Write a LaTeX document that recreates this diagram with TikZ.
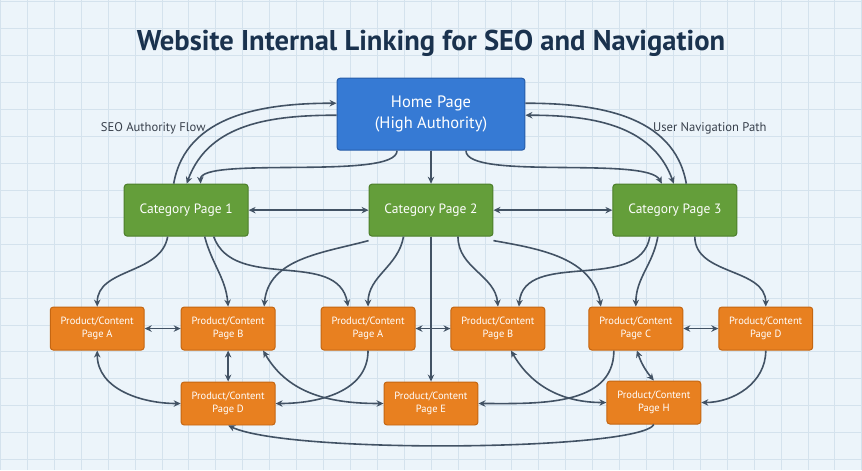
\documentclass[tikz,border=0pt]{standalone}
\usepackage{fontspec}
\setmainfont{PT Sans}
\usetikzlibrary{arrows.meta,positioning,calc}
\definecolor{homeblue}{RGB}{54,122,212}
\definecolor{homeedge}{RGB}{38,92,168}
\definecolor{catgreen}{RGB}{100,158,58}
\definecolor{catedge}{RGB}{76,126,42}
\definecolor{prodorange}{RGB}{232,128,32}
\definecolor{prodedge}{RGB}{196,102,18}
\definecolor{linkgray}{RGB}{66,82,100}
\definecolor{titlenavy}{RGB}{26,50,78}
\definecolor{labelgray}{RGB}{56,64,76}
\definecolor{bgblue}{RGB}{236,244,250}
\definecolor{gridblue}{RGB}{212,226,237}

\begin{document}
\begin{tikzpicture}[x=1pt,y=1pt,
  homebox/.style={draw=homeedge, line width=1pt, rounded corners=3pt, fill=homeblue,
                  text=white, minimum width=188pt, minimum height=72pt, align=center,
                  font=\fontsize{16.5}{20.5}\selectfont},
  catbox/.style={draw=catedge, line width=1pt, rounded corners=3pt, fill=catgreen,
                 text=white, minimum width=124pt, minimum height=52pt,
                 font=\fontsize{13.5}{16}\selectfont},
  prodbox/.style={draw=prodedge, line width=1pt, rounded corners=3pt, fill=prodorange,
                  text=white, minimum width=94pt, minimum height=43pt, align=center,
                  font=\fontsize{10.5}{12.5}\selectfont},
  arr/.style={-{Stealth[length=7pt,width=6.5pt]}, line width=1.6pt, linkgray},
  darr/.style={{Stealth[length=7pt,width=6.5pt]}-{Stealth[length=7pt,width=6.5pt]},
               line width=1.6pt, linkgray},
  link/.style={line width=1.6pt, linkgray},
  gridline/.style={gridblue, line width=0.6pt},
  flowlabel/.style={text=labelgray, font=\fontsize{12.6}{15}\selectfont}
]
% background and grid
\fill[bgblue] (0,0) rectangle (862,470);
\foreach \gx in {0,...,32} \draw[gridline] (\gx*26.9375,0) -- (\gx*26.9375,470);
\foreach \gy in {0,...,17} \draw[gridline] (0,468.5-\gy*26.9375) -- (862,468.5-\gy*26.9375);
\useasboundingbox (0,0) rectangle (862,470);

\node[text=titlenavy, font=\fontsize{28.6}{34}\selectfont\bfseries] (title) at (431,427)
  {Website Internal Linking for SEO and Navigation};

% pages
\node[homebox] (home) at (431,356) {Home Page\\(High Authority)};
\node[catbox, below=33pt of home] (cat2) {Category Page 2};
\node[catbox, left=120pt of cat2] (cat1) {Category Page 1};
\node[catbox, right=119pt of cat2] (cat3) {Category Page 3};

\node[prodbox] (pa1) at (97,141.5) {Product/Content\\Page A};
\node[prodbox, right=36pt of pa1] (pb1) {Product/Content\\Page B};
\node[prodbox, right=45pt of pb1] (pa2) {Product/Content\\Page A};
\node[prodbox, right=35pt of pa2] (pb2) {Product/Content\\Page B};
\node[prodbox, right=43pt of pb2] (pc) {Product/Content\\Page C};
\node[prodbox, right=35pt of pc] (pd1) {Product/Content\\Page D};
\node[prodbox, below=31pt of pb1] (pd2) {Product/Content\\Page D};
\node[prodbox] (pe) at (cat2 |- pd2) {Product/Content\\Page E};
\node[prodbox] (ph) at (654,67.5) {Product/Content\\Page H};

\node[flowlabel] (seo) at (153,342) {SEO Authority Flow};
\node[flowlabel] (nav) at (710,342) {User Navigation Path};

% home <-> categories
\draw[arr] ([xshift=-12.5pt]cat1.north) to[out=80,in=180] ([yshift=11pt]home.west);
\draw[arr] ([yshift=-1pt]home.west) to[out=180,in=70] ([xshift=0.5pt]cat1.north);
\draw[arr] ([xshift=-34pt]home.south) .. controls ($(home.south)+(-34,-30)$)
  and ($(cat1.north)+(13,28)$) .. ([xshift=14.5pt]cat1.north);
\draw[link] ([yshift=11pt]home.east) to[out=0,in=100] ([xshift=11.5pt]cat3.north);
\draw[darr] ([yshift=-1pt]home.east) to[out=0,in=110] ([xshift=-1pt]cat3.north);
\draw[arr] ([xshift=35pt]home.south) .. controls ($(home.south)+(35,-30)$)
  and ($(cat3.north)+(-28,28)$) .. ([xshift=-13pt]cat3.north);
\draw[arr] (home) -- (cat2);
\draw[darr] (cat1) -- (cat2);
\draw[darr] (cat2) -- (cat3);

% categories -> products
\draw[arr] ([xshift=-18.5pt]cat1.south) to[out=-100,in=90] (pa1.north);
\draw[arr] ([xshift=18.5pt]cat1.south) to[out=-75,in=95] (pb1.north);
\draw[arr] ([xshift=27.5pt]cat1.south) to[out=-70,in=100] ([xshift=-20pt]pa2.north);
\draw[arr] ([yshift=-4pt]cat2.south west) to[out=195,in=85] ([xshift=36pt]pb1.north);
\draw[arr] ([xshift=-27.5pt]cat2.south) to[out=-100,in=90] (pa2.north);
\draw[arr] (cat2) -- (pe);
\draw[arr] ([xshift=27pt]cat2.south) to[out=-90,in=95] (pb2.north);
\draw[arr] ([yshift=-4pt]cat2.south east) to[out=-10,in=100] ([xshift=-35pt]pc.north);
\draw[arr] ([xshift=-25pt]cat3.south) to[out=-100,in=85] ([xshift=21pt]pb2.north);
\draw[arr] ([xshift=-17pt]cat3.south) to[out=-100,in=90] (pc.north);
\draw[arr] ([xshift=20pt]cat3.south) to[out=-90,in=90] (pd1.north);

% products
\draw[darr] (pa1) -- (pb1);
\draw[darr] (pa2) -- (pb2);
\draw[darr] (pc) -- (pd1);
\draw[darr] (pb1) -- (pd2);
\draw[darr] (pa1.south) to[out=-90,in=180] (pd2.west);
\draw[darr] ([xshift=35pt]pb1.south) to[out=-60,in=180] (pe.west);
\draw[arr] (pa2.south) to[out=-90,in=0] (pd2.east);
\draw[darr] ([xshift=13pt]pb2.south) to[out=-60,in=180] (ph.west);
\draw[arr] ([xshift=-22pt]pc.south) to[out=-90,in=0] (pe.east);
\draw[darr] ([xshift=1pt]pc.south) to[bend right=10] (ph.north);
\draw[arr] (pd1.south) to[out=-90,in=0] (ph.east);
\draw[arr] (ph.south) .. controls ($(ph.south)+(-14,-26)$)
  and ($(pd2.south)+(63,-29)$) .. (pd2.south);
\end{tikzpicture}
\end{document}
